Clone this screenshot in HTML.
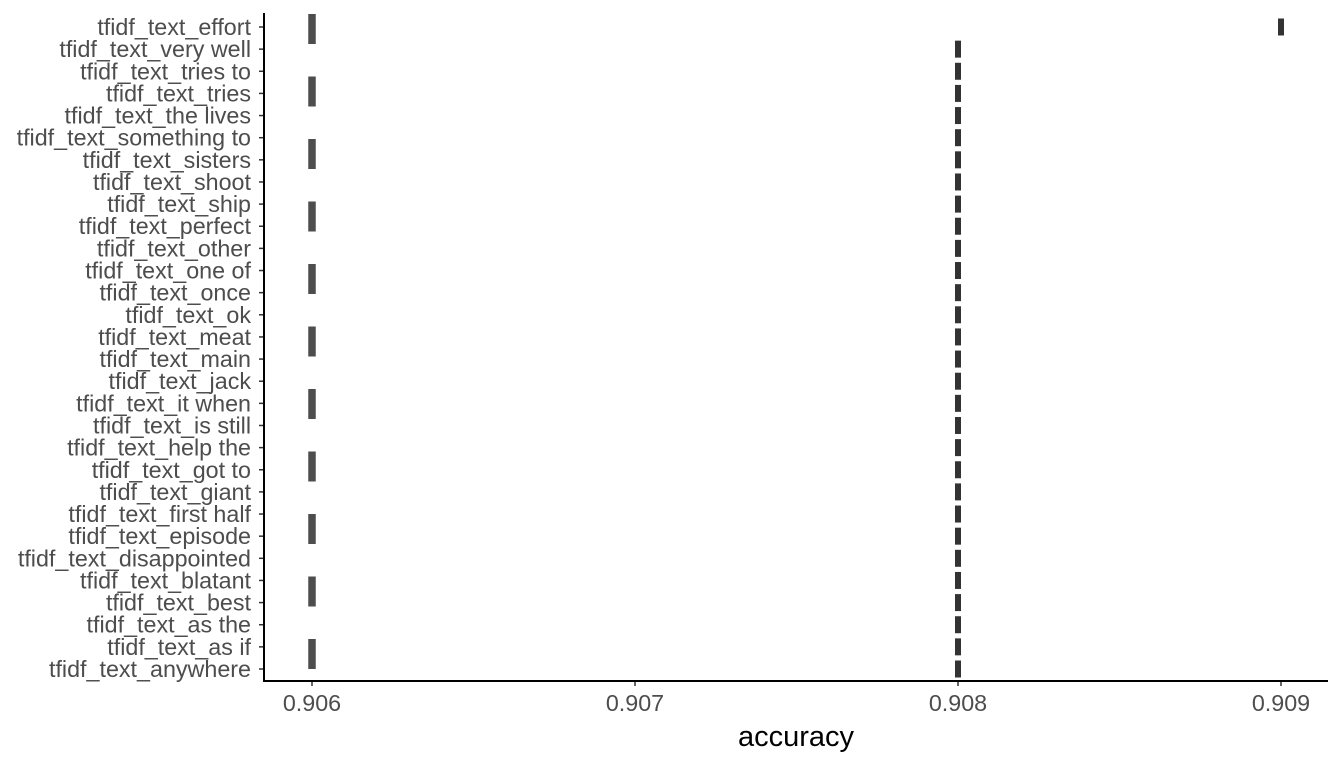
<!DOCTYPE html>
<html><head><meta charset="utf-8"><style>
body{margin:0;background:#fff;}
svg text{font-family:"Liberation Sans",Arial,sans-serif;}
</style></head><body>
<svg id="chart" width="1344" height="768" xmlns="http://www.w3.org/2000/svg">
<g id="plot"></g>
</svg>
<script>
const categories = ["tfidf_text_effort","tfidf_text_very well","tfidf_text_tries to","tfidf_text_tries","tfidf_text_the lives","tfidf_text_something to","tfidf_text_sisters","tfidf_text_shoot","tfidf_text_ship","tfidf_text_perfect","tfidf_text_other","tfidf_text_one of","tfidf_text_once","tfidf_text_ok","tfidf_text_meat","tfidf_text_main","tfidf_text_jack","tfidf_text_it when","tfidf_text_is still","tfidf_text_help the","tfidf_text_got to","tfidf_text_giant","tfidf_text_first half","tfidf_text_episode","tfidf_text_disappointed","tfidf_text_blatant","tfidf_text_best","tfidf_text_as the","tfidf_text_as if","tfidf_text_anywhere"];
const accuracy = [0.909,0.908,0.908,0.908,0.908,0.908,0.908,0.908,0.908,0.908,0.908,0.908,0.908,0.908,0.908,0.908,0.908,0.908,0.908,0.908,0.908,0.908,0.908,0.908,0.908,0.908,0.908,0.908,0.908,0.908];
const referenceValue = [0.906];
const xTicks = [0.906,0.907,0.908,0.909];

const NS="http://www.w3.org/2000/svg";
const g=document.getElementById('plot');
const xScale=v=>312+(v-0.906)*323000;
const nRows=categories.length;
const yScale=i=>27+i*(669-27)/(nRows-1);
const plotTop=13,plotBottom=681,plotLeft=264,plotRight=1328;
function mk(t,a){const e=document.createElementNS(NS,t);for(const k in a)e.setAttribute(k,a[k]);g.appendChild(e);return e;}

referenceValue.forEach(v=>{
  const l=mk('line',{x1:xScale(v),x2:xScale(v),y1:plotTop+1,y2:plotBottom,stroke:'#4d4d4d','stroke-width':7.5,'stroke-dasharray':'30 32.5'});
  
  
});
categories.forEach((c,i)=>{
  const m=mk('line',{x1:xScale(accuracy[i]),x2:xScale(accuracy[i]),y1:yScale(i)-8.5,y2:yScale(i)+8.5,stroke:'#333','stroke-width':6});
  
  
  mk('line',{x1:plotLeft-5,x2:plotLeft,y1:yScale(i),y2:yScale(i),stroke:'#333','stroke-width':1.5});
  const t=mk('text',{x:251,y:yScale(i)+8,'text-anchor':'end','font-size':23.3,fill:'#4d4d4d'});
  t.textContent=c;
  
  
});
xTicks.forEach(v=>{
  mk('line',{x1:xScale(v),x2:xScale(v),y1:plotBottom,y2:plotBottom+5,stroke:'#333','stroke-width':1.5});
  const t=mk('text',{x:xScale(v),y:711,'text-anchor':'middle','font-size':23.3,fill:'#4d4d4d'});
  t.textContent=v.toFixed(3);
  
  
});
const ya=mk('line',{x1:plotLeft,x2:plotLeft,y1:plotTop,y2:plotBottom+1,stroke:'#000','stroke-width':2});


const xa=mk('line',{x1:plotLeft-1,x2:plotRight,y1:plotBottom,y2:plotBottom,stroke:'#000','stroke-width':2});


const xt=mk('text',{x:796,y:746,'text-anchor':'middle','font-size':29,fill:'#000'});
xt.textContent='accuracy';


</script>
</body></html>
